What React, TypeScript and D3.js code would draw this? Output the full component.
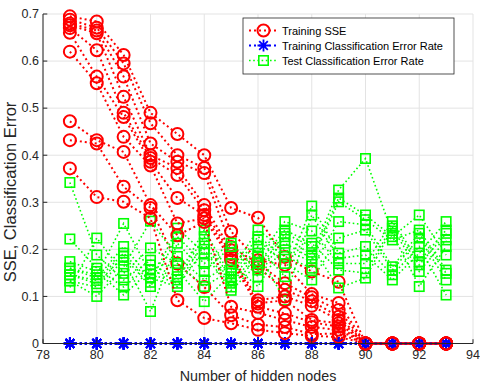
import React from "react";
import * as d3 from "d3";

// hidden node counts on the x axis
const hiddenNodes = [79, 80, 81, 82, 83, 84, 85, 86, 87, 88, 89, 90, 91, 92, 93];

// one row per training run
const trainSSE = [
  [0.695, 0.684, 0.613, 0.49, 0.445, 0.4, 0.288, 0.267, 0.184, 0.153, 0.131, 0, 0, 0, 0],
  [0.688, 0.671, 0.595, 0.468, 0.4, 0.373, 0.238, 0.177, 0.167, 0.105, 0.086, 0, 0, 0, 0],
  [0.68, 0.665, 0.567, 0.425, 0.386, 0.362, 0.205, 0.17, 0.128, 0.098, 0.071, 0, 0, 0, 0],
  [0.676, 0.659, 0.524, 0.4, 0.373, 0.294, 0.198, 0.162, 0.114, 0.09, 0.057, 0, 0, 0, 0],
  [0.67, 0.623, 0.49, 0.394, 0.358, 0.283, 0.19, 0.092, 0.1, 0.08, 0.05, 0, 0, 0, 0],
  [0.66, 0.567, 0.481, 0.386, 0.309, 0.273, 0.184, 0.085, 0.092, 0.05, 0.043, 0, 0, 0, 0],
  [0.62, 0.553, 0.439, 0.378, 0.255, 0.266, 0.177, 0.078, 0.064, 0.045, 0.036, 0, 0, 0, 0],
  [0.472, 0.432, 0.407, 0.294, 0.23, 0.258, 0.078, 0.065, 0.05, 0.035, 0.029, 0, 0, 0, 0],
  [0.432, 0.425, 0.333, 0.288, 0.17, 0.12, 0.06, 0.04, 0.035, 0.02, 0.021, 0, 0, 0, 0],
  [0.372, 0.311, 0.301, 0.266, 0.092, 0.054, 0.043, 0.029, 0.022, 0.016, 0.014, 0, 0, 0, 0],
];

const trainClassErr = [0, 0, 0, 0, 0, 0, 0, 0, 0, 0, 0, 0, 0, 0, 0];

const testClassErr = [
  [0.342, 0.188, 0.135, 0.177, 0.156, 0.089, 0.149, 0.227, 0.185, 0.16, 0.259, 0.252, 0.163, 0.234, 0.149],
  [0.222, 0.16, 0.12, 0.167, 0.142, 0.241, 0.142, 0.22, 0.17, 0.135, 0.224, 0.241, 0.156, 0.224, 0.135],
  [0.174, 0.153, 0.103, 0.156, 0.135, 0.227, 0.135, 0.206, 0.142, 0.292, 0.192, 0.206, 0.146, 0.206, 0.103],
  [0.16, 0.146, 0.255, 0.148, 0.128, 0.213, 0.128, 0.192, 0.092, 0.273, 0.181, 0.188, 0.135, 0.192, 0.259],
  [0.16, 0.139, 0.206, 0.139, 0.121, 0.2, 0.12, 0.184, 0.259, 0.239, 0.17, 0.17, 0.259, 0.174, 0.241],
  [0.146, 0.134, 0.192, 0.13, 0.245, 0.192, 0.113, 0.17, 0.241, 0.213, 0.156, 0.15, 0.25, 0.167, 0.234],
  [0.146, 0.127, 0.185, 0.121, 0.227, 0.17, 0.213, 0.156, 0.234, 0.206, 0.118, 0.139, 0.245, 0.153, 0.22],
  [0.133, 0.12, 0.177, 0.068, 0.213, 0.153, 0.206, 0.142, 0.227, 0.188, 0.326, 0.393, 0.234, 0.121, 0.206],
  [0.133, 0.1, 0.163, 0.26, 0.185, 0.135, 0.17, 0.121, 0.213, 0.181, 0.309, 0.273, 0.227, 0.273, 0.188],
  [0.119, 0.224, 0.149, 0.203, 0.17, 0.121, 0.156, 0.241, 0.199, 0.174, 0.301, 0.263, 0.22, 0.241, 0.156],
];

const xTicks = [78, 80, 82, 84, 86, 88, 90, 92, 94];
const yTicks = [0, 0.1, 0.2, 0.3, 0.4, 0.5, 0.6, 0.7];
const legendLabels = ["Training SSE", "Training Classification Error Rate", "Test Classification Error Rate"];

const W = 480;
const H = 385;
const axisColor = "#262626";
const font = "'Liberation Sans', Arial, Helvetica, sans-serif";

const x = d3.scaleLinear().domain([78, 94]).range([43, 473]);
const y = d3.scaleLinear().domain([0, 0.7]).range([343.5, 14]);

const lineGen = d3
  .line<number>()
  .x((_, i) => x(hiddenNodes[i]))
  .y((d) => y(d));

const Circle = ({ cx, cy }: { cx: number; cy: number }) => (
  <circle cx={cx} cy={cy} r={6} fill="none" stroke="#ff0000" strokeWidth={2} />
);

const Star = ({ cx, cy }: { cx: number; cy: number }) => (
  <path
    transform={`translate(${cx},${cy})`}
    d="M-6,0H6M0,-6V6M-4.3,-4.3L4.3,4.3M-4.3,4.3L4.3,-4.3"
    stroke="#0000ff"
    strokeWidth={1.8}
    fill="none"
  />
);

const Square = ({ cx, cy }: { cx: number; cy: number }) => (
  <rect x={cx - 4.7} y={cy - 4.7} width={9.4} height={9.4} fill="none" stroke="#00ff00" strokeWidth={1.6} />
);

export default function App() {
  const left = x.range()[0];
  const right = x.range()[1];
  const top = y.range()[1];
  const bottom = y.range()[0];

  // legend layout
  const lg = { x: 243, y: 18, w: 211, h: 56 };
  const rowY = [30.5, 45.5, 60.5];
  const lineX0 = lg.x + 6;
  const lineX1 = lg.x + 35;
  const markX = (lineX0 + lineX1) / 2;

  return (
    <div style={{ position: "fixed", left: 0, top: 0 }}>
      <svg width={W} height={H} style={{ display: "block", background: "#fff" }}>
        {/* grid */}
        <g stroke="#e3e3e3" strokeWidth={1}>
          {xTicks.map((t) => (
            <line key={"gx" + t} x1={x(t)} x2={x(t)} y1={top} y2={bottom} />
          ))}
          {yTicks.map((t) => (
            <line key={"gy" + t} x1={left} x2={right} y1={y(t)} y2={y(t)} />
          ))}
        </g>

        {/* data, one run at a time */}
        {trainSSE.map((sse, r) => (
          <g key={"run" + r}>
            <path d={lineGen(trainClassErr) || ""} fill="none" stroke="#0000ff" strokeWidth={2} strokeDasharray="2 3" />
            {trainClassErr.map((v, i) => (
              <Star key={"s" + i} cx={x(hiddenNodes[i])} cy={y(v)} />
            ))}
            <path d={lineGen(sse) || ""} fill="none" stroke="#ff0000" strokeWidth={2} strokeDasharray="2 3" />
            {sse.map((v, i) => (
              <Circle key={"c" + i} cx={x(hiddenNodes[i])} cy={y(v)} />
            ))}
            <path
              d={lineGen(testClassErr[r]) || ""}
              fill="none"
              stroke="#00ff00"
              strokeWidth={1.6}
              strokeDasharray="1.6 2.6"
            />
            {testClassErr[r].map((v, i) => (
              <Square key={"q" + i} cx={x(hiddenNodes[i])} cy={y(v)} />
            ))}
          </g>
        ))}

        {/* axes */}
        <g stroke={axisColor} strokeWidth={1} fill="none">
          <line x1={left} x2={left} y1={top} y2={bottom} />
          <line x1={left} x2={right} y1={bottom} y2={bottom} />
          {xTicks.map((t) => (
            <line key={"tx" + t} x1={x(t)} x2={x(t)} y1={bottom} y2={bottom - 4.3} />
          ))}
          {yTicks.map((t) => (
            <line key={"ty" + t} x1={left} x2={left + 4.3} y1={y(t)} y2={y(t)} />
          ))}
        </g>
        <g fill={axisColor} fontFamily={font} fontSize={12.5}>
          {xTicks.map((t) => (
            <text key={"lx" + t} x={x(t)} y={bottom + 15.5} textAnchor="middle">
              {t}
            </text>
          ))}
          {yTicks.map((t) => (
            <text key={"ly" + t} x={left - 4} y={y(t) + 4.3} textAnchor="end">
              {t}
            </text>
          ))}
        </g>
        <text
          x={(left + right) / 2}
          y={381}
          textAnchor="middle"
          fontFamily={font}
          fontSize={14.3}
          fill={axisColor}
        >
          Number of hidden nodes
        </text>
        <text
          transform={`translate(16,192) rotate(-90)`}
          textAnchor="middle"
          fontFamily={font}
          fontSize={16.5}
          fill={axisColor}
        >
          SSE, Classification Error
        </text>

        {/* legend */}
        <g>
          <rect x={lg.x} y={lg.y} width={lg.w} height={lg.h} fill="#fff" stroke={axisColor} strokeWidth={0.8} />
          <line x1={lineX0} x2={lineX1} y1={rowY[0]} y2={rowY[0]} stroke="#ff0000" strokeWidth={2} strokeDasharray="2 3" />
          <Circle cx={markX} cy={rowY[0]} />
          <line x1={lineX0} x2={lineX1} y1={rowY[1]} y2={rowY[1]} stroke="#0000ff" strokeWidth={2} strokeDasharray="2 3" />
          <Star cx={markX} cy={rowY[1]} />
          <line x1={lineX0} x2={lineX1} y1={rowY[2]} y2={rowY[2]} stroke="#00ff00" strokeWidth={1.6} strokeDasharray="1.6 2.6" />
          <Square cx={markX} cy={rowY[2]} />
          {legendLabels.map((l, i) => (
            <text key={l} x={lineX1 + 4} y={rowY[i] + 4} fontFamily={font} fontSize={11} fill="#000">
              {l}
            </text>
          ))}
        </g>
      </svg>
    </div>
  );
}
